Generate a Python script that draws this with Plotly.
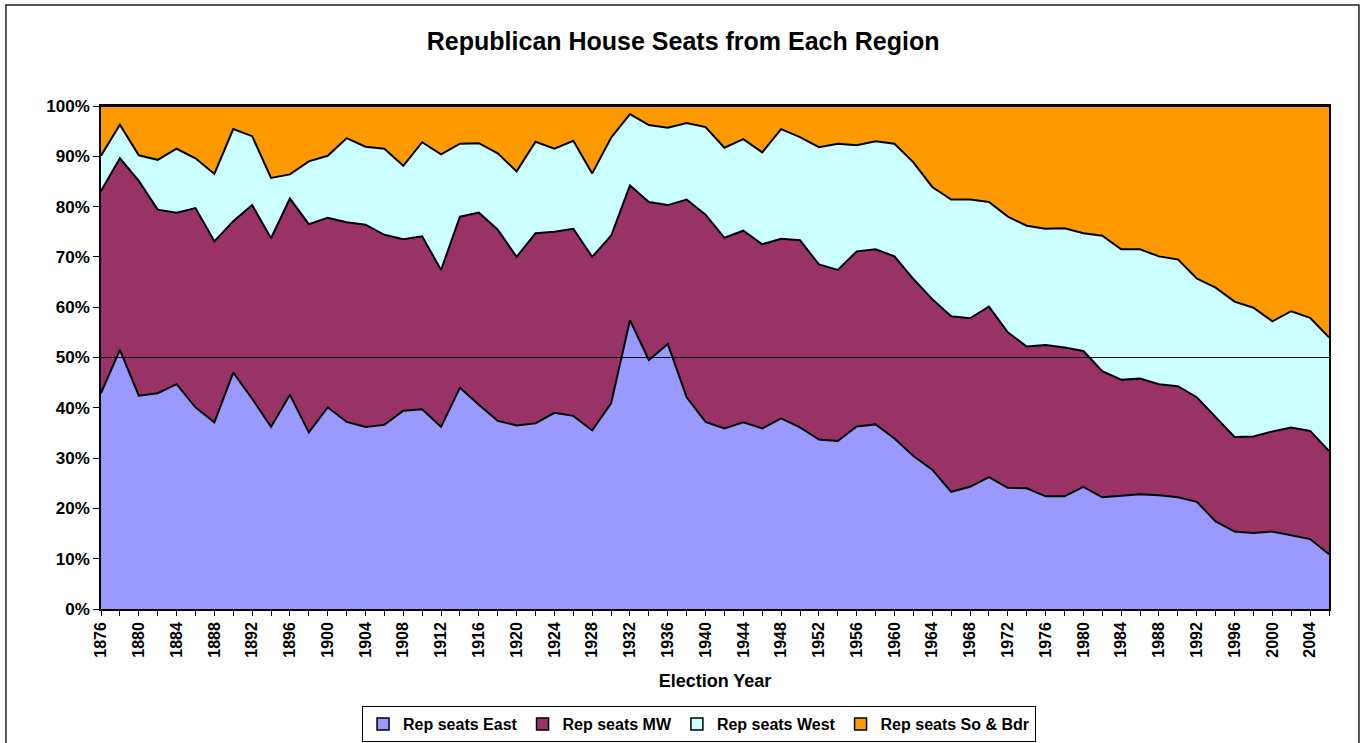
import plotly.graph_objs as go

# election years, every 2 years
years = list(range(1876, 2008, 2))

# share of Republican House seats by region (percent)
east = [
    42.9, 51.5, 42.4, 42.9, 44.7, 40.1, 37.1, 47.0, 41.8, 36.2,
    42.6, 35.1, 40.1, 37.2, 36.2, 36.6, 39.4, 39.7, 36.2, 44.0,
    40.6, 37.4, 36.5, 36.9, 39.0, 38.4, 35.5, 40.9, 57.4, 49.5,
    52.7, 42.1, 37.2, 35.9, 37.1, 35.9, 37.9, 36.1, 33.7, 33.4,
    36.3, 36.7, 33.9, 30.4, 27.7, 23.3, 24.3, 26.2, 24.1, 24.0,
    22.4, 22.4, 24.3, 22.2, 22.5, 22.8, 22.6, 22.2, 21.3, 17.4,
    15.4, 15.1, 15.4, 14.7, 13.9, 10.9,
]
midwest = [
    40.2, 38.1, 42.7, 36.5, 34.1, 39.6, 36.0, 30.1, 38.5, 37.5,
    39.0, 41.4, 37.7, 39.7, 40.2, 37.8, 34.1, 34.4, 31.2, 34.0,
    38.2, 38.0, 33.5, 37.8, 36.0, 37.2, 34.5, 33.3, 26.8, 31.4,
    27.6, 39.3, 41.2, 37.9, 38.1, 36.6, 35.7, 37.2, 34.8, 34.0,
    34.8, 34.8, 36.2, 35.2, 33.9, 34.9, 33.5, 33.9, 30.9, 28.2,
    30.1, 29.6, 27.0, 25.1, 23.1, 23.0, 22.1, 22.1, 20.8, 20.7,
    18.8, 19.2, 19.9, 21.4, 21.5, 20.5,
]
west = [
    7.0, 6.7, 5.1, 9.9, 12.7, 9.9, 13.4, 18.3, 13.7, 12.0,
    4.8, 12.5, 12.3, 16.7, 15.5, 17.1, 14.6, 18.7, 23.0, 14.5,
    13.8, 15.2, 17.0, 18.2, 16.5, 17.5, 16.6, 19.5, 14.2, 15.3,
    15.4, 15.2, 17.4, 17.9, 18.2, 18.3, 21.8, 20.5, 23.3, 25.1,
    21.1, 21.5, 22.4, 23.2, 22.3, 23.2, 23.6, 20.8, 23.0, 24.0,
    23.1, 23.7, 23.4, 26.9, 25.9, 25.7, 25.4, 25.2, 23.6, 25.8,
    26.9, 25.6, 21.9, 23.1, 22.5, 22.6,
]
south = [
    9.9, 3.7, 9.8, 10.7, 8.5, 10.4, 13.5, 4.6, 6.0, 14.3,
    13.6, 11.0, 9.9, 6.4, 8.1, 8.5, 11.9, 7.2, 9.6, 7.5,
    7.4, 9.4, 13.0, 7.1, 8.5, 6.9, 13.4, 6.3, 1.6, 3.8,
    4.3, 3.4, 4.2, 8.3, 6.6, 9.2, 4.6, 6.2, 8.2, 7.5,
    7.8, 7.0, 7.5, 11.2, 16.1, 18.6, 18.6, 19.1, 22.0, 23.8,
    24.4, 24.3, 25.3, 25.8, 28.5, 28.5, 29.9, 30.5, 34.3, 36.1,
    38.9, 40.1, 42.8, 40.8, 42.1, 46.0,
]

series_names = ["Rep seats East", "Rep seats MW", "Rep seats West", "Rep seats So & Bdr"]
series_colors = ["#9999FF", "#993366", "#CCFFFF", "#FF9900"]

tick_text = [str(y) if (y - 1876) % 4 == 0 else "" for y in years]

FONT = "Arial, Liberation Sans, sans-serif"

fig = go.Figure()

for name, vals, color in zip(series_names, [east, midwest, west, south], series_colors):
    fig.add_trace(
        go.Scatter(
            x=years,
            y=vals,
            name=name,
            mode="lines",
            stackgroup="one",
            fillcolor=color,
            line={"color": "black", "width": 2},
            showlegend=False,
            hoverinfo="x+y+name",
        )
    )

# legend entries with square swatches like the Excel legend
for name, color in zip(series_names, series_colors):
    fig.add_trace(
        go.Scatter(
            x=[None],
            y=[None],
            name=name,
            mode="markers",
            marker={"symbol": "square", "size": 12, "color": color,
                    "line": {"color": "black", "width": 1.5}},
            hoverinfo="skip",
        )
    )

# 50% reference line
fig.add_shape(
    type="line", xref="paper", yref="y", x0=0, x1=1, y0=50, y1=50,
    line={"color": "black", "width": 1.2},
)

# outer chart frame
fig.add_shape(
    type="rect", xref="paper", yref="paper",
    x0=-0.0774, x1=1.0244, y0=-0.29, y1=1.2008,
    line={"color": "#222222", "width": 1.5},
    layer="below",
)

fig.update_layout(
    width=1369,
    height=743,
    margin={"l": 101, "r": 40, "t": 106, "b": 134, "autoexpand": False},
    paper_bgcolor="white",
    plot_bgcolor="white",
    font={"family": FONT, "size": 17, "color": "black"},
    title={
        "text": "<b>Republican House Seats from Each Region</b>",
        "x": 0.499,
        "xanchor": "center",
        "y": 1 - 41 / 743,
        "yanchor": "middle",
        "font": {"size": 25, "family": FONT, "color": "black"},
    },
    xaxis={
        "range": [1876, 2006],
        "tickvals": years,
        "ticktext": tick_text,
        "tickangle": -90,
        "ticks": "outside",
        "ticklen": 5,
        "tickcolor": "black",
        "tickfont": {"size": 16, "family": FONT, "color": "black", "weight": "bold"},
        "showline": True,
        "linecolor": "black",
        "linewidth": 1.5,
        "mirror": True,
        "showgrid": False,
        "zeroline": False,
        "automargin": False,
        "title": {
            "text": "<b>Election Year</b>",
            "font": {"size": 18, "family": FONT, "color": "black"},
            "standoff": 18,
        },
    },
    yaxis={
        "range": [0, 100],
        "dtick": 10,
        "ticksuffix": "%",
        "ticks": "outside",
        "ticklen": 6,
        "tickcolor": "black",
        "tickfont": {"size": 17, "family": FONT, "color": "black", "weight": "bold"},
        "showline": True,
        "linecolor": "black",
        "linewidth": 1.5,
        "mirror": True,
        "showgrid": False,
        "zeroline": False,
        "automargin": False,
    },
    showlegend=True,
    legend={
        "orientation": "h",
        "x": 0.487,
        "xanchor": "center",
        "y": -0.193,
        "yanchor": "top",
        "bordercolor": "black",
        "borderwidth": 1,
        "bgcolor": "white",
        "font": {"size": 16, "family": FONT, "color": "black", "weight": "bold"},
        "itemwidth": 30,
        "tracegroupgap": 0,
        "traceorder": "normal",
    },
    hovermode="x unified",
)

fig.write_html(
    "out.html",
    config={"displayModeBar": False},
    post_script="document.body.style.margin='0px';",
)
